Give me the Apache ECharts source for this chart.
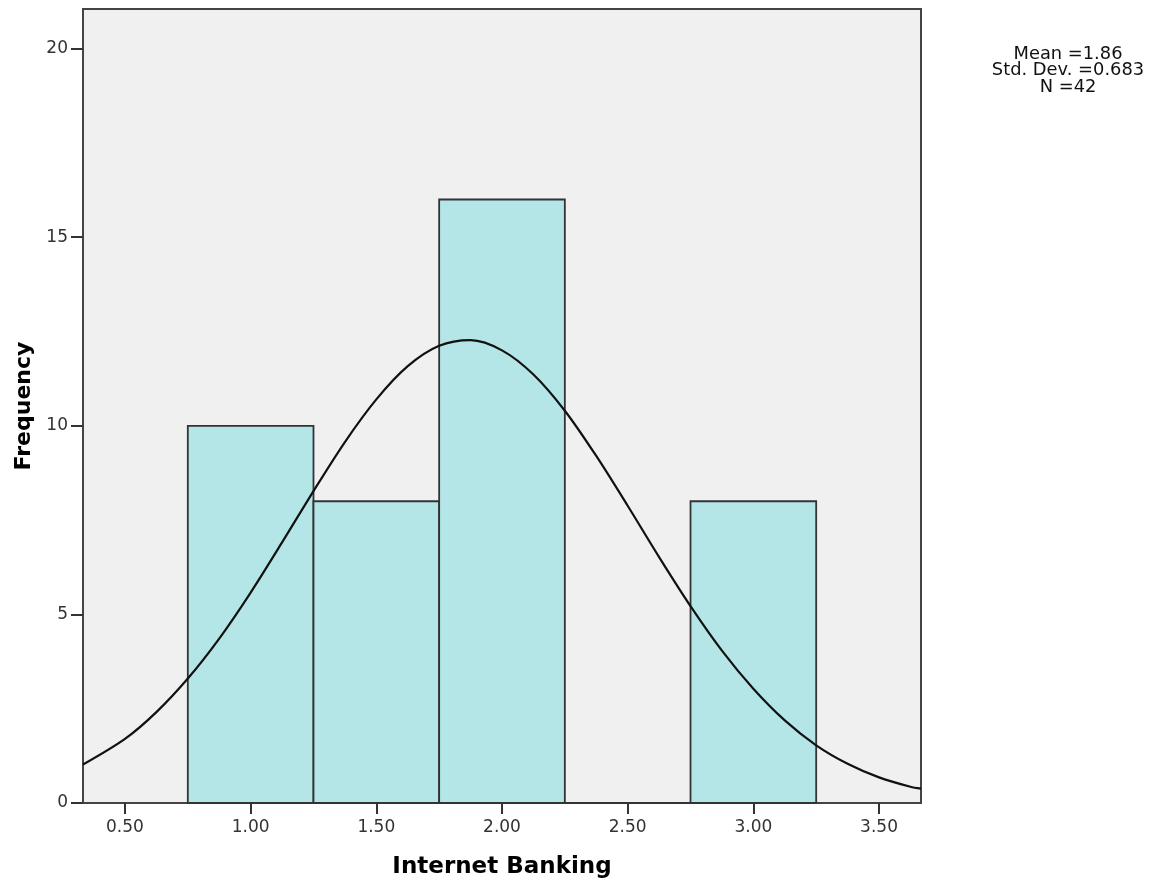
<!DOCTYPE html>
<html>
<head>
<meta charset="utf-8">
<script src="https://cdn.jsdelivr.net/npm/echarts@6/dist/echarts.min.js"></script>
<style>
html,body{margin:0;padding:0;background:#fff;}
#chart{width:1157px;height:883px;}
</style>
</head>
<body>
<div id="chart"></div>
<script>
// Histogram bins
const binStart = [0.75, 1.25, 1.75, 2.25, 2.75];
const binEnd   = [1.25, 1.75, 2.25, 2.75, 3.25];
const counts   = [10, 8, 16, 0, 8];

// Normal curve
const curveX = [0.333, 0.5, 0.625, 0.75, 0.875, 1.0, 1.125, 1.25, 1.375, 1.5, 1.625, 1.75, 1.875, 2.0, 2.125, 2.25, 2.375, 2.5, 2.625, 2.75, 2.875, 3.0, 3.125, 3.25, 3.375, 3.5, 3.625, 3.667];
const curveY = [1.02, 1.70, 2.41, 3.30, 4.36, 5.58, 6.91, 8.27, 9.57, 10.70, 11.58, 12.12, 12.27, 12.00, 11.36, 10.40, 9.20, 7.88, 6.52, 5.22, 4.04, 3.03, 2.19, 1.53, 1.04, 0.68, 0.43, 0.38];

const xTicks = [0.5, 1.0, 1.5, 2.0, 2.5, 3.0, 3.5];
const yTicks = [0, 5, 10, 15, 20];

const statLines = ['Mean =1.86', 'Std. Dev. =0.683', 'N =42'];

const chart = echarts.init(document.getElementById('chart'), null, {renderer: 'canvas'});

const histData = binStart.map((s, i) => [s, binEnd[i], counts[i]]);
const curveData = curveX.map((x, i) => [x, curveY[i]]);

const font = '"DejaVu Sans", Verdana, sans-serif';

chart.setOption({
  animation: false,
  backgroundColor: '#ffffff',
  grid: {
    left: 83, top: 9, right: 236, bottom: 80,
    outerBoundsMode: 'none',
    containLabel: false,
    show: true,
    backgroundColor: '#f0f0f0',
    borderColor: '#444444',
    borderWidth: 2
  },
  xAxis: {
    type: 'value',
    min: 0.333, max: 3.667,
    name: 'Internet Banking',
    nameLocation: 'middle',
    nameGap: 53,
    nameTextStyle: {fontFamily: font, fontSize: 23, fontWeight: 'bold', color: '#000'},
    axisLine: {show: true, onZero: false, lineStyle: {color: '#444', width: 2}},
    axisTick: {show: true, length: 11, customValues: xTicks, lineStyle: {color: '#333', width: 2}},
    axisLabel: {customValues: xTicks, formatter: v => v.toFixed(2), fontFamily: font, fontSize: 17, color: '#333', margin: 16},
    splitLine: {show: false}
  },
  yAxis: {
    type: 'value',
    min: 0, max: 21.05,
    name: 'Frequency',
    nameLocation: 'middle',
    nameGap: 45,
    nameRotate: 90,
    nameTextStyle: {fontFamily: font, fontSize: 22, fontWeight: 'bold', color: '#000'},
    axisLine: {show: true, lineStyle: {color: '#444', width: 2}},
    axisTick: {show: true, length: 12, customValues: yTicks, lineStyle: {color: '#333', width: 2}},
    axisLabel: {customValues: yTicks, fontFamily: font, fontSize: 17, color: '#333', margin: 15},
    splitLine: {show: false}
  },
  series: [
    {
      type: 'custom',
      data: histData,
      encode: {x: [0, 1], y: 2},
      renderItem: function (params, api) {
        const p0 = api.coord([api.value(0), api.value(2)]);
        const p1 = api.coord([api.value(1), 0]);
        return {
          type: 'rect',
          shape: {x: p0[0], y: p0[1], width: p1[0] - p0[0], height: p1[1] - p0[1]},
          style: {fill: '#b4e6e8', stroke: '#333333', lineWidth: 1.8}
        };
      },
      z: 2
    },
    {
      type: 'line',
      data: curveData,
      smooth: 0.3,
      showSymbol: false,
      symbol: 'none',
      lineStyle: {color: '#111', width: 2.2},
      clip: true,
      z: 3
    }
  ],
  graphic: [
    {
      type: 'text',
      x: 1068, y: 71,
      scaleX: 1.05,
      style: {
        text: statLines.join('\n'),
        font: '17px ' + font,
        fill: '#111',
        align: 'center',
        verticalAlign: 'middle',
        lineHeight: 16.5
      }
    }
  ]
});
</script>
</body>
</html>
